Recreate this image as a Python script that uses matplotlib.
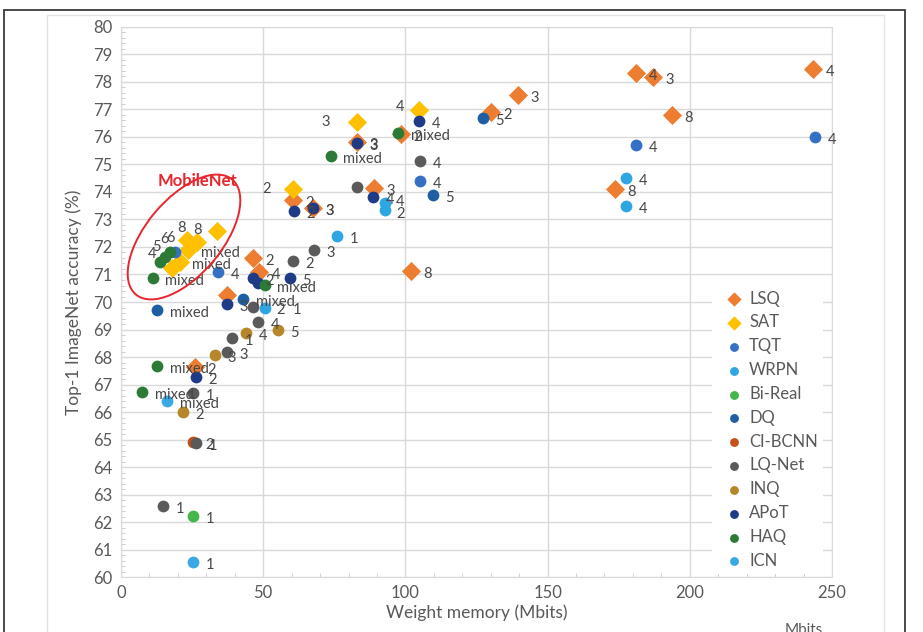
import numpy as np
import matplotlib
matplotlib.use('Agg')
import matplotlib.pyplot as plt
from matplotlib.patches import Ellipse, Rectangle
from matplotlib.ticker import MultipleLocator
import matplotlib.transforms as mtrans

plt.rcParams['font.family'] = ['Lato', 'DejaVu Sans']

#=======================================================================================
# Data (x = weight memory in Mbits, y = top-1 accuracy in %)
#=======================================================================================

lsq_x = [243.3, 181.1, 187.1, 193.7, 173.7, 139.6, 130.1, 98.5, 83.0, 89.0, 60.5, 67.5, 102.0, 46.4, 48.5, 37.3, 26.0]
lsq_y = [78.47, 78.33, 78.18, 76.8, 74.11, 77.53, 76.9, 76.1, 75.8, 74.15, 73.7, 73.4, 71.13, 71.6, 71.1, 70.25, 67.64]
lsq_lab = ['4', '4', '3', '8', '8', '3', '2', '2', '3', '3', '2', '3', '8', '2', '4', '', '2']

sat_x = [104.8, 83.0, 60.5, 33.8, 26.7, 23.2, 23.6, 20.7, 17.9]
sat_y = [76.98, 76.55, 74.1, 72.58, 72.18, 72.25, 71.89, 71.45, 71.24]
sat_lab = ['4', '3', '2', '', '8', '8', 'mixed', 'mixed', '']

tqt_x = [244.0, 181.1, 105.1, 34.1, 19.0]
tqt_y = [76.0, 75.71, 74.4, 71.09, 71.82]
tqt_lab = ['4', '4', '4', '4', '6']

wrpn_x = [177.6, 177.6, 92.8, 92.8, 76.0, 50.6]
wrpn_y = [74.5, 73.49, 73.6, 73.35, 72.4, 69.8]
wrpn_lab = ['4', '4', '4', '2', '1', '2  1']

bireal_x = [25.3]
bireal_y = [62.22]
bireal_lab = ['1']

dq_x = [12.7, 42.9, 127.3, 109.7]
dq_y = [69.71, 70.1, 76.69, 73.9]
dq_lab = ['mixed', 'mixed', '5', '5']

cibcnn_x = [25.3]
cibcnn_y = [64.9]
cibcnn_lab = ['2']

lqnet_x = [83.0, 105.1, 60.5, 67.9, 46.4, 48.2, 39.0, 37.3, 26.4, 14.8, 25.3]
lqnet_y = [74.18, 75.13, 71.49, 71.89, 69.82, 69.27, 68.69, 68.18, 64.87, 62.58, 66.7]
lqnet_lab = ['', '4', '2', '3', '', '4', '1', '3', '1', '1', '1']

inq_x = [44.0, 55.2, 33.0, 21.8]
inq_y = [68.87, 68.98, 68.07, 66.0]
inq_lab = ['4', '5', '3', '2']

apot_x = [104.8, 83.0, 88.6, 60.8, 67.5, 46.4, 48.2, 37.3, 26.4, 59.4]
apot_y = [76.58, 75.78, 73.8, 73.3, 73.4, 70.87, 70.69, 69.93, 67.27, 70.87]
apot_lab = ['4', '3', '4', '2', '3', '2', '', '3', '2', '5']

haq_x = [73.8, 97.4, 50.6, 12.7, 7.4, 11.2, 13.7, 15.5, 17.2]
haq_y = [75.31, 76.15, 70.62, 67.67, 66.73, 70.87, 71.45, 71.64, 71.8]
haq_lab = ['mixed', 'mixed', 'mixed', 'mixed', 'mixed', 'mixed', '4', '5', '6']

icn_x = [16.2, 25.3]
icn_y = [66.4, 60.55]
icn_lab = ['mixed', '1']

#=======================================================================================
# Series styles
#=======================================================================================

series = [
    ('LSQ', lsq_x, lsq_y, lsq_lab, '#ed7d31', 'D'),
    ('SAT', sat_x, sat_y, sat_lab, '#ffc000', 'D'),
    ('TQT', tqt_x, tqt_y, tqt_lab, '#3470c4', 'o'),
    ('WRPN', wrpn_x, wrpn_y, wrpn_lab, '#2ea6e2', 'o'),
    ('Bi-Real', bireal_x, bireal_y, bireal_lab, '#45b649', 'o'),
    ('DQ', dq_x, dq_y, dq_lab, '#1e5fa3', 'o'),
    ('CI-BCNN', cibcnn_x, cibcnn_y, cibcnn_lab, '#c4501c', 'o'),
    ('LQ-Net', lqnet_x, lqnet_y, lqnet_lab, '#5a5a5a', 'o'),
    ('INQ', inq_x, inq_y, inq_lab, '#b5862a', 'o'),
    ('APoT', apot_x, apot_y, apot_lab, '#1f3b87', 'o'),
    ('HAQ', haq_x, haq_y, haq_lab, '#2c7a35', 'o'),
    ('ICN', icn_x, icn_y, icn_lab, '#3aa8e4', 'o'),
]

# labels that sit somewhere other than to the right of their point (offsets in points)
label_offsets = {
    ('SAT', 0): (-17, 2), ('SAT', 1): (-26, 0), ('SAT', 2): (-22, 0),
    ('SAT', 4): (-3, 9), ('SAT', 5): (-7, 9),
    ('TQT', 4): (-6, 10),
    ('HAQ', 6): (-9, 6), ('HAQ', 7): (-9, 7), ('HAQ', 8): (-7, 10),
    ('WRPN', 2): (8, 1), ('WRPN', 3): (8, -3),
}

#=======================================================================================
# Figure
#=======================================================================================

fig = plt.figure(figsize=(9.23, 6.32), dpi=100)
ax = fig.add_axes([0.1311, 0.0870, 0.7703, 0.8703])

# outer frame of the screenshot
fig.patches.append(Rectangle((4/923, -0.05), 901/923, 1.05 - 10/632, transform=fig.transFigure,
                             fill=False, edgecolor='#3a3a3a', linewidth=1.3))
fig.patches.append(Rectangle((47/923, -0.05), 837/923, 1.05 - 15/632, transform=fig.transFigure,
                             fill=False, edgecolor='#e3e3e3', linewidth=1.0))

for name, xs, ys, labs, color, marker in series:
    size = 95 if marker == 'D' else 72
    ax.scatter(xs, ys, s=size, c=color, marker=marker, label=name, zorder=3, linewidths=0)
    for i, (x, y, t) in enumerate(zip(xs, ys, labs)):
        if not t:
            continue
        dx, dy = label_offsets.get((name, i), (9, -2))
        ax.annotate(t, (x, y), xytext=(dx, dy), textcoords='offset points',
                    fontsize=10.5, color='#474747', va='center', ha='left', zorder=4)

ax.set_xlim(0, 250)
ax.set_ylim(60, 80)
ax.xaxis.set_major_locator(MultipleLocator(50))
ax.yaxis.set_major_locator(MultipleLocator(1))
ax.xaxis.set_minor_locator(MultipleLocator(10))
ax.yaxis.set_minor_locator(MultipleLocator(0.2))
ax.grid(True, which='major', color='#d9d9d9', linewidth=1.0, zorder=0)
ax.set_axisbelow(True)
ax.tick_params(which='major', length=0, labelsize=12, colors='#595959', pad=6)
ax.tick_params(which='minor', direction='in', length=3, color='#c8c8c8')
for s in ax.spines.values():
    s.set_color('#d9d9d9')

ax.set_xlabel('Weight memory (Mbits)', fontsize=12.5, color='#595959', labelpad=2)
ax.set_ylabel('Top-1 ImageNet accuracy (%)', fontsize=12.5, color='#595959', labelpad=8)

# MobileNet highlight
ax.text(27.0, 74.4, 'MobileNet', color='#e8262d', fontsize=12, fontweight='bold',
        ha='center', va='center')
ell = Ellipse((184, 632 - 237), 150, 76, angle=50, fill=False, edgecolor='#e8262d',
              linewidth=1.4, transform=mtrans.IdentityTransform(), zorder=5)
fig.patches.append(ell)

leg = ax.legend(loc='upper left', bbox_to_anchor=(0.82, 0.545), frameon=True, fontsize=12,
                markerscale=0.75, handletextpad=-0.1, labelspacing=0.47, borderpad=0.3,
                scatterpoints=1, labelcolor='#595959')
leg.get_frame().set_facecolor('white')
leg.get_frame().set_edgecolor('none')
leg.get_frame().set_alpha(1)
leg.set_zorder(6)

fig.text(785/923, 9/632, 'Mbits', fontsize=11, color='#595959', ha='left', va='top')

plt.savefig('out.png', dpi=100)
